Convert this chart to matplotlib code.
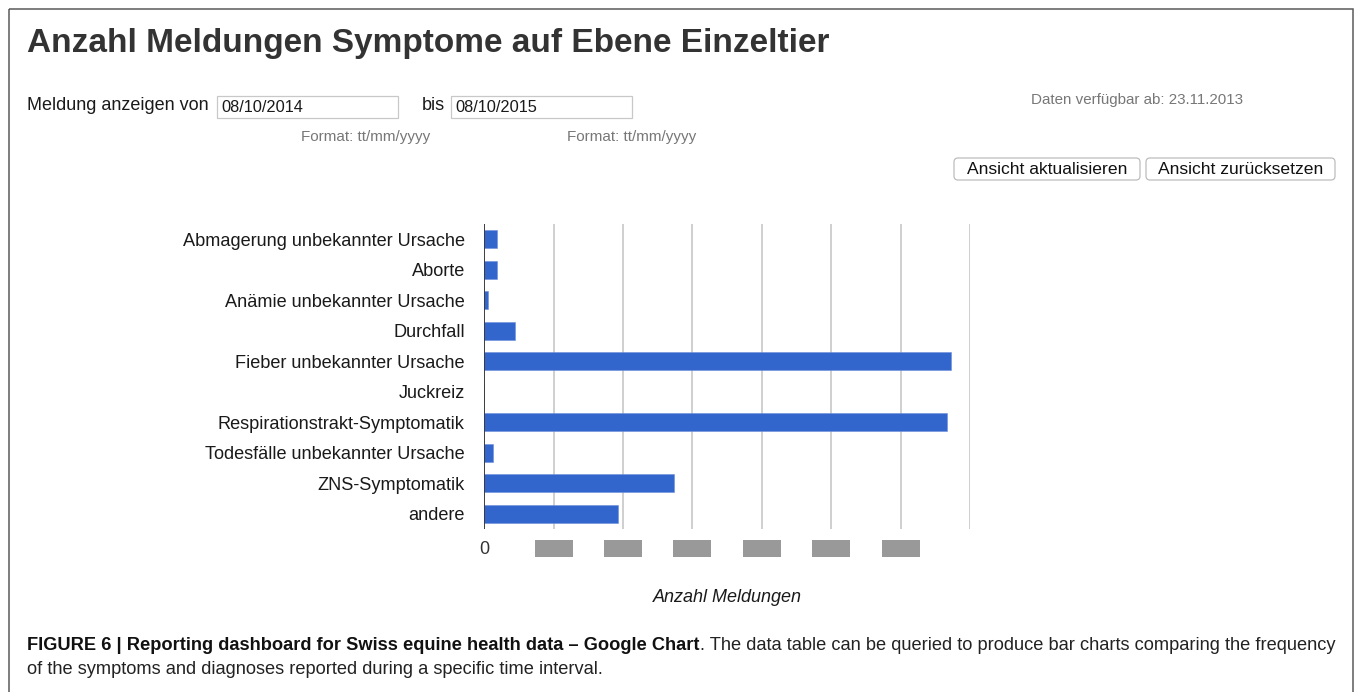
import matplotlib
matplotlib.use("Agg")
import matplotlib.pyplot as plt
from matplotlib.patches import Rectangle, FancyBboxPatch
from matplotlib.transforms import blended_transform_factory

plt.rcParams['font.family'] = ['Liberation Sans', 'DejaVu Sans']

# ---- data ----
categories = [
    "Abmagerung unbekannter Ursache",
    "Aborte",
    "Anämie unbekannter Ursache",
    "Durchfall",
    "Fieber unbekannter Ursache",
    "Juckreiz",
    "Respirationstrakt-Symptomatik",
    "Todesfälle unbekannter Ursache",
    "ZNS-Symptomatik",
    "andere",
]
counts = [3.7, 3.7, 1.2, 8.9, 134.5, 0, 133.3, 2.4, 54.7, 38.4]
x_ticks = [0, 20, 40, 60, 80, 100, 120, 140]
x_tick_labels = ["0", "", "", "", "", "", "", ""]   # values hidden (grey boxes) in the original
title = "Anzahl Meldungen Symptome auf Ebene Einzeltier"
x_title = "Anzahl Meldungen"
caption_bold = "FIGURE 6 | Reporting dashboard for Swiss equine health data – Google Chart"
caption_rest = ". The data table can be queried to produce bar charts comparing the frequency"
caption_line2 = "of the symptoms and diagnoses reported during a specific time interval."

W, H = 1355, 692
fig = plt.figure(figsize=(W / 100, H / 100), dpi=100)
fig.patch.set_facecolor("white")

# ---- overlay (pixel coordinates) ----
ov = fig.add_axes([0, 0, 1, 1])
ov.set_xlim(0, W)
ov.set_ylim(H, 0)
ov.axis("off")

ov.add_patch(Rectangle((8.5, 9), 1344, 700, fill=False, edgecolor="#5a5a5a", lw=1.1))

ov.text(27, 52, title, fontsize=24, fontweight="bold", color="#333333", va="baseline", ha="left")

ov.text(27, 106, "Meldung anzeigen von", fontsize=13, color="#1a1a1a", va="center", ha="left")
ov.add_patch(Rectangle((217, 96), 181, 22, facecolor="white", edgecolor="#c8c8c8", lw=0.9))
ov.text(221, 107, "08/10/2014", fontsize=11.8, color="#1a1a1a", va="center", ha="left")
ov.text(422, 106, "bis", fontsize=13, color="#1a1a1a", va="center", ha="left")
ov.add_patch(Rectangle((451, 96), 181, 22, facecolor="white", edgecolor="#c8c8c8", lw=0.9))
ov.text(455, 107, "08/10/2015", fontsize=11.8, color="#1a1a1a", va="center", ha="left")
ov.text(301, 137, "Format: tt/mm/yyyy", fontsize=11, color="#777777", va="center", ha="left")
ov.text(567, 137, "Format: tt/mm/yyyy", fontsize=11, color="#777777", va="center", ha="left")
ov.text(1031, 100, "Daten verfügbar ab: 23.11.2013", fontsize=10.9, color="#777777", va="center", ha="left")

for (x0, x1, lab) in [(954, 1140, "Ansicht aktualisieren"), (1146, 1335, "Ansicht zurücksetzen")]:
    ov.add_patch(FancyBboxPatch((x0, 158), x1 - x0, 22,
                                boxstyle="round,pad=0,rounding_size=4",
                                facecolor="white", edgecolor="#bdbdbd", lw=0.9))
    ov.text((x0 + x1) / 2, 169.5, lab, fontsize=12.6, color="#111111", va="center", ha="center")

ov.text(727, 598, x_title, fontsize=13, style="italic", color="#1a1a1a", va="center", ha="center")

# caption with bold + regular part, fitted to the original line width
renderer = fig.canvas.get_renderer()
tb = ov.text(27, 646, caption_bold, fontsize=12, fontweight="bold", color="#111111", va="center", ha="left")
tr = ov.text(0, 646, caption_rest, fontsize=12, color="#222222", va="center", ha="left")
wb = tb.get_window_extent(renderer).width
wr = tr.get_window_extent(renderer).width
size = 12 * 1310.0 / (wb + wr)
tb.set_fontsize(size)
tr.set_fontsize(size)
wb = tb.get_window_extent(renderer).width
tr.set_x(27 + wb)
ov.text(27, 669, caption_line2, fontsize=size, color="#222222", va="center", ha="left")

# ---- chart ----
left, right, top, bottom = 484.3, 970.0, 224.0, 529.0
ax = fig.add_axes([left / W, (H - bottom) / H, (right - left) / W, (bottom - top) / H])
ax.set_facecolor("none")
ypos = list(range(len(categories)))
ax.barh(ypos, counts, height=0.58, color="#3366cc", edgecolor="#6e8fdc", linewidth=0.4, zorder=2)
ax.set_xlim(x_ticks[0], x_ticks[-1])
ax.set_ylim(len(categories) - 0.5, -0.5)
ax.set_yticks(ypos)
ax.set_yticklabels(categories, fontsize=13.1, color="#1a1a1a")
ax.set_xticks(x_ticks)
ax.set_xticklabels(x_tick_labels, fontsize=13, color="#333333")
ax.tick_params(axis="y", length=0, pad=14)
ax.tick_params(axis="x", length=0, pad=9)
ax.xaxis.grid(True, color="#cccccc", lw=1.3, zorder=0)
ax.set_axisbelow(True)
for s in ax.spines.values():
    s.set_visible(False)
ax.axvline(0, color="#333333", lw=1.3, zorder=3)

# grey boxes that hide the tick values in the original screenshot
trans = blended_transform_factory(ax.transData, ax.transAxes)
box_w = 38 / (right - left) * (x_ticks[-1] - x_ticks[0])
for t in x_ticks[1:-1]:
    ax.add_patch(Rectangle((t - box_w / 2, -(557 - bottom) / (bottom - top)), box_w,
                           17 / (bottom - top), transform=trans, clip_on=False,
                           facecolor="#999999", edgecolor="none"))

fig.savefig("out.png", dpi=100, facecolor="white")
